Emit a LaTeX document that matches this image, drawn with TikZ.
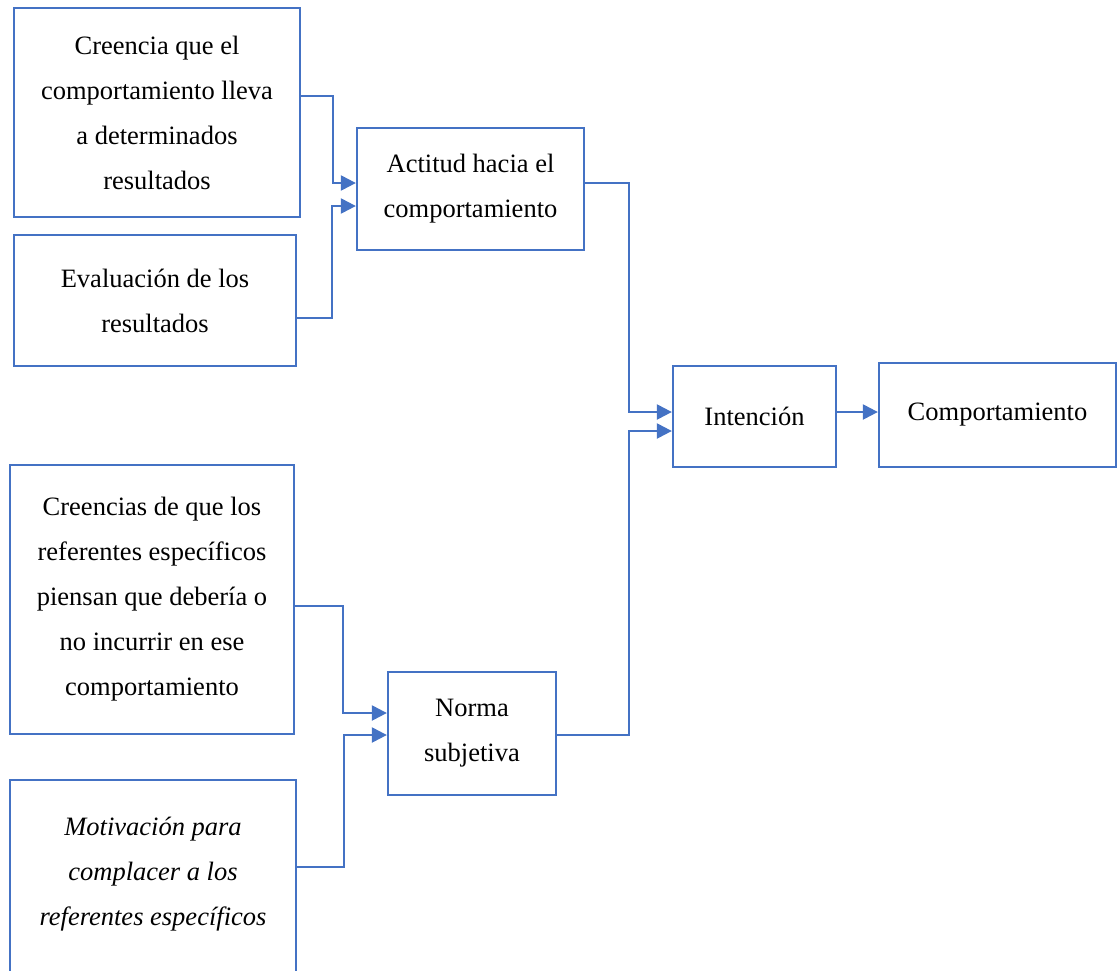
\documentclass[tikz,border=0pt]{standalone}
\usepackage{fontspec}
\setmainfont{Liberation Serif}
\usetikzlibrary{arrows.meta}
\definecolor{linkblue}{HTML}{4472C4}
\begin{document}
\begin{tikzpicture}[x=1pt,y=-1pt,
  box/.style={draw=linkblue,line width=2.3pt,rectangle,align=center,inner sep=0pt,
    font=\fontsize{26.5}{45}\selectfont},
  conn/.style={draw=linkblue,line width=2.3pt,-{Triangle[length=15pt,width=15pt]}}]
\clip (0,0) rectangle (1117,970);

% boxes
\node[box,minimum width=286pt,minimum height=209pt] (cre) at (157,112.5)
  {Creencia que el\\comportamiento lleva\\a determinados\\resultados};
\node[box,minimum width=282pt,minimum height=131pt] (eva) at (155,300.5)
  {Evaluación de los\\resultados};
\node[box,minimum width=227pt,minimum height=122pt] (act) at (470.5,189)
  {Actitud hacia el\\comportamiento};
\node[box,minimum width=163pt,minimum height=101pt] (int) at (754.5,416.5)
  {Intención};
\node[box,minimum width=237pt,minimum height=104pt] (com) at (997.5,415)
  {Comportamiento};
\node[box,minimum width=284pt,minimum height=269pt] (ref) at (152,599.5)
  {Creencias de que los\\referentes específicos\\piensan que debería o\\no incurrir en ese\\comportamiento};
\node[box,minimum width=168pt,minimum height=123pt] (nor) at (472,733.5)
  {Norma\\subjetiva};
\node[box,minimum width=286pt,minimum height=227pt] (mot) at (153,893.5)
  {\itshape Motivación para\\\itshape complacer a los\\\itshape referentes específicos\\~};

% connectors
\draw[conn] ([yshift=16.5pt]cre.east) -- ++(32,0) |- ([yshift=6pt]act.west);
\draw[conn] ([yshift=-17.5pt]eva.east) -- ++(35,0) |- ([yshift=-17pt]act.west);
\draw[conn] ([yshift=6pt]act.east) -- ++(44,0) |- ([yshift=4.5pt]int.west);
\draw[conn] ([yshift=-1.5pt]nor.east) -- ++(72,0) |- ([yshift=-14.5pt]int.west);
\coordinate (ie) at ([yshift=4.5pt]int.east);
\draw[conn] (ie) -- (ie -| com.west);
\draw[conn] ([yshift=-6.5pt]ref.east) -- ++(48,0) |- ([yshift=20.5pt]nor.west);
\draw[conn] ([yshift=26.5pt]mot.east) -- ++(47,0) |- ([yshift=-1.5pt]nor.west);
\end{tikzpicture}
\end{document}
